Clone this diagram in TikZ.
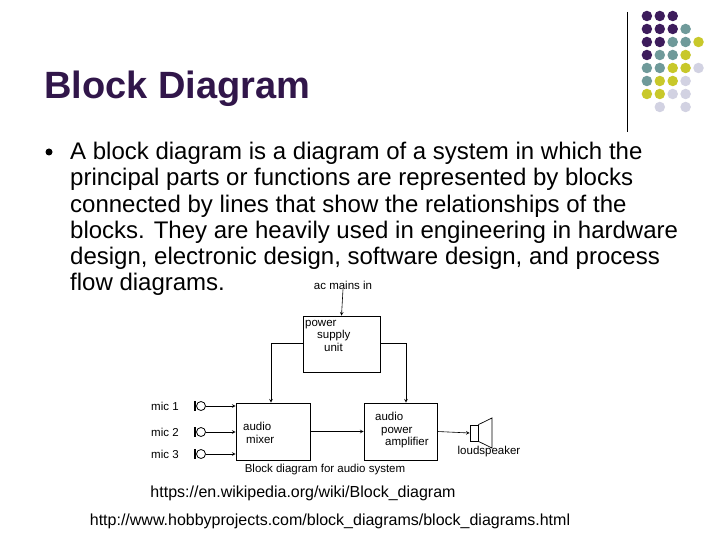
\documentclass[tikz,border=0pt]{standalone}
\usepackage{fontspec}
\setmainfont{Liberation Sans}
\begin{document}
\begin{tikzpicture}[x=1pt,y=-1pt,
  bx/.style={draw,line width=0.8pt},
  ar/.style={->,>=stealth,line width=0.6pt},
  lb/.style={font=\fontsize{11.5}{12.5}\selectfont,align=left,inner sep=0},
  body/.style={anchor=base west,inner sep=0,font=\fontsize{24}{26}\selectfont},
  dot/.style={circle,inner sep=0,minimum size=10.5pt}]
\useasboundingbox[fill=white] (0,0) rectangle (720,540);
\definecolor{cP}{HTML}{3D1C5C}\definecolor{cT}{HTML}{6F9A9A}
\definecolor{cY}{HTML}{C8C82A}\definecolor{cL}{HTML}{D2D2E2}
\definecolor{cN}{HTML}{FFFFFF}
\draw[line width=1pt] (627,12) -- (627,132);
\foreach \row [count=\r] in {{P,P,P,N,N},{P,P,P,T,N},{P,P,T,T,Y},{P,T,T,Y,N},{T,T,Y,Y,L},{T,Y,Y,L,N},{Y,Y,L,L,N},{N,L,N,L,N}}{
  \foreach \c [count=\k] in \row {
    \node[dot,fill=c\c] (d\r\k) at ({634+12.9*\k},{3+13*\r}) {};
    }}
\node[anchor=base west,inner sep=0,font=\fontsize{38}{40}\selectfont\bfseries,text=cP!80!black] (title) at (44,99) {Block Diagram};
\node[circle,fill=black,inner sep=0,minimum size=7pt] (bul) at (49,152) {};
\node[body] (l1) at (70,160) {A block diagram is a diagram of a system in which the};
\node[body] (l2) at (70,186) {principal parts or functions are represented by blocks};
\node[body] (l3) at (70,212) {connected by lines that show the relationships of the};
\node[body] (l4) at (70,238) {blocks. They are heavily used in engineering in hardware};
\node[body] (l5) at (70,264) {design, electronic design, software design, and process};
\node[body] (l6) at (70,290) {flow diagrams.};
% diagram
\node[lb] (ac) at (343,285) {ac mains in};
\node[bx,minimum width=77pt,minimum height=56pt] (psu) at (341.5,344) {};
\node[lb,anchor=north west] (psut) at (305,320) {power\\\hspace{12pt}supply\\\hspace{19pt}unit};
\node[bx,minimum width=74pt,minimum height=57pt] (mix) at (273,431.5) {};
\node[lb,anchor=north west] (mixt) at (243,422) {audio\\\hspace{3pt}mixer};
\node[bx,minimum width=73pt,minimum height=57pt] (amp) at (400.5,431.5) {};
\node[lb,anchor=north west] (ampt) at (375,412) {audio\\\hspace{6pt}power\\\hspace{10pt}amplifier};
\draw[ar] (ac.south) -- (psu.north);
\coordinate (pl) at (303,343); \coordinate (pr) at (380,343);
\draw[ar] (pl) -| (mix.north -| 271,0);
\draw[ar] (pr) -| (amp.north -| 406,0);
\draw[ar] (mix.east) -- (amp.west);
\foreach \y/\t [count=\i] in {406/1,432/2,454/3}{
  \node[lb,anchor=west] (m\i) at (151,\y) {mic \t};
  \draw[line width=1.2pt] (195,\y-5) -- (195,\y+5);
  \node[draw,circle,inner sep=0,minimum size=9pt,line width=0.8pt] (mc\i) at (201,\y) {};
  \draw[ar] (mc\i.east) -- (mix.west |- 0,\y);
}
\node[draw,line width=0.7pt,minimum width=8pt,minimum height=16pt,inner sep=0] (spk) at (474,433) {};
\draw[line width=0.7pt] (spk.north east) -- (492,418) -- (492,448) -- (spk.south east);
\draw[ar] (amp.east) -- (spk.west);
\node[lb] (ls) at (489,452) {loudspeaker};
\node[lb] (cap) at (325,470) {Block diagram for audio system};
\node[inner sep=0,font=\fontsize{16}{18}\selectfont] (u1) at (303,493) {https://en.wikipedia.org/wiki/Block\_diagram};
\node[inner sep=0,font=\fontsize{16}{18}\selectfont] (u2) at (330,521) {http://www.hobbyprojects.com/block\_diagrams/block\_diagrams.html};
\end{tikzpicture}
\end{document}
